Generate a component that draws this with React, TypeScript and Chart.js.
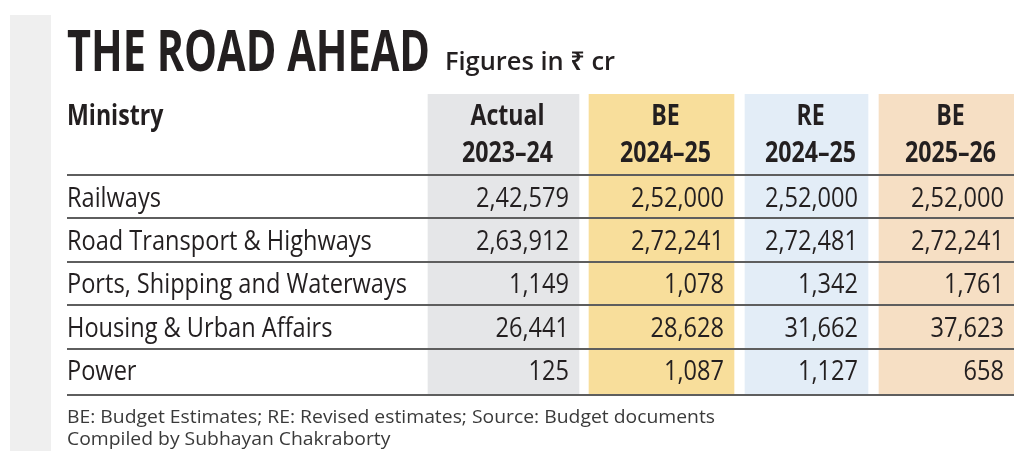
import React, { useEffect, useRef } from "react";
import { Chart, registerables } from "chart.js";

Chart.register(...registerables);

// ---------- data ----------
const MINISTRIES = [
  "Railways",
  "Road Transport & Highways",
  "Ports, Shipping and Waterways",
  "Housing & Urban Affairs",
  "Power",
];
const COLUMN_LABELS_TOP = ["Actual", "BE", "RE", "BE"];
const COLUMN_LABELS_BOTTOM = ["2023–24", "2024–25", "2024–25", "2025–26"];
const ACTUAL_2023_24 = [242579, 263912, 1149, 26441, 125];
const BE_2024_25 = [252000, 272241, 1078, 28628, 1087];
const RE_2024_25 = [252000, 272481, 1342, 31662, 1127];
const BE_2025_26 = [252000, 272241, 1761, 37623, 658];
const SERIES = [ACTUAL_2023_24, BE_2024_25, RE_2024_25, BE_2025_26];

const TITLE = "THE ROAD AHEAD";
const SUBTITLE = "Figures in ₹ cr";
const FIRST_HEADER = "Ministry";
const FOOTNOTES = [
  "BE: Budget Estimates; RE: Revised estimates; Source: Budget documents",
  "Compiled by Subhayan Chakraborty",
];

// ---------- layout / style ----------
const COLUMN_FILLS = ["#e5e6e8", "#f8de9b", "#e3edf7", "#f6dfc4"];
const X_MAX = 947;
const COL_SPANS: [number, number][] = [
  [361, 512],
  [522, 667],
  [678, 801],
  [812, 947],
];
const Y_MIN = -1.866;
const Y_MAX = 5.07;
const HEAD_LINE1 = -1.38;
const HEAD_LINE2 = -0.52;
const TEXT = "#231f20";
const RULE = "#5e5e5e";
const FONT = "'Open Sans', 'Noto Sans', 'DejaVu Sans', sans-serif";

function fmtIN(n: number): string {
  const s = String(n);
  if (s.length <= 3) return s;
  const last3 = s.slice(-3);
  let rest = s.slice(0, -3);
  const parts: string[] = [];
  while (rest.length > 2) {
    parts.unshift(rest.slice(-2));
    rest = rest.slice(0, -2);
  }
  if (rest) parts.unshift(rest);
  return parts.join(",") + "," + last3;
}

function drawScaled(
  ctx: CanvasRenderingContext2D,
  text: string,
  x: number,
  y: number,
  font: string,
  sx: number,
  align: "left" | "right" | "center"
) {
  ctx.save();
  ctx.font = font;
  ctx.textBaseline = "alphabetic";
  ctx.textAlign = "left";
  const w = ctx.measureText(text).width * sx;
  const left = align === "left" ? x : align === "right" ? x - w : x - w / 2;
  ctx.translate(left, y);
  ctx.scale(sx, 1);
  ctx.fillText(text, 0, 0);
  ctx.restore();
}

function fitScale(ctx: CanvasRenderingContext2D, text: string, font: string, target: number) {
  ctx.save();
  ctx.font = font;
  const w = ctx.measureText(text).width;
  ctx.restore();
  return w > 0 ? target / w : 1;
}

const tablePlugin = {
  id: "tableText",
  beforeDraw(chart: any) {
    const { ctx, chartArea } = chart;
    ctx.save();
    ctx.fillStyle = "#ffffff";
    ctx.fillRect(0, 0, chart.width, chart.height);
    ctx.fillStyle = "#efefef";
    ctx.fillRect(chartArea.left - 57, chartArea.top - 79, 41, 436);
    ctx.restore();
  },
  afterDatasetsDraw(chart: any) {
    const { ctx, chartArea, scales } = chart;
    const xs = scales.x;
    const ys = scales.y;
    const left = chartArea.left;

    ctx.save();
    ctx.fillStyle = TEXT;

    // title
    const titleFont = `bold 57px ${FONT}`;
    const tSx = fitScale(ctx, TITLE, titleFont, 363);
    drawScaled(ctx, TITLE, left, chartArea.top - 23, titleFont, tSx, "left");
    const subFont = `600 25px ${FONT}`;
    const sSx = fitScale(ctx, SUBTITLE, subFont, 170);
    drawScaled(ctx, SUBTITLE, left + 378, chartArea.top - 24, subFont, sSx, "left");

    // rules
    ctx.fillStyle = RULE;
    [0, 1, 2, 3, 4, Y_MAX].forEach((v) => {
      const py = Math.round(ys.getPixelForValue(v));
      ctx.fillRect(xs.getPixelForValue(0), py - 1, xs.getPixelForValue(X_MAX) - xs.getPixelForValue(0), 2);
    });

    ctx.fillStyle = TEXT;
    // headers
    const headFont = `bold 28px ${FONT}`;
    const hSx = fitScale(ctx, "2023–24", headFont, 91);
    drawScaled(ctx, FIRST_HEADER, xs.getPixelForValue(0), ys.getPixelForValue(HEAD_LINE1) + 10, headFont, hSx, "left");
    COL_SPANS.forEach(([a, b], i) => {
      const cx = (xs.getPixelForValue(a) + xs.getPixelForValue(b)) / 2 + 4;
      drawScaled(ctx, COLUMN_LABELS_TOP[i], cx, ys.getPixelForValue(HEAD_LINE1) + 10, headFont, hSx, "center");
      drawScaled(ctx, COLUMN_LABELS_BOTTOM[i], cx, ys.getPixelForValue(HEAD_LINE2) + 10, headFont, hSx, "center");
    });

    // body
    const bodyFont = `28px ${FONT}`;
    const bSx = fitScale(ctx, MINISTRIES[2], bodyFont, 340);
    MINISTRIES.forEach((m, r) => {
      const base = ys.getPixelForValue(r + 0.5) + 10;
      drawScaled(ctx, m, xs.getPixelForValue(0), base, bodyFont, bSx, "left");
      SERIES.forEach((s, c) => {
        const rx = xs.getPixelForValue(COL_SPANS[c][1]) - 10;
        drawScaled(ctx, fmtIN(s[r]), rx, base, bodyFont, bSx, "right");
      });
    });

    // footnotes
    ctx.fillStyle = "#3a3a3a";
    const footFont = `19px ${FONT}`;
    const fSx = fitScale(ctx, FOOTNOTES[0], footFont, 648);
    drawScaled(ctx, FOOTNOTES[0], left, chartArea.bottom + 28, footFont, fSx, "left");
    drawScaled(ctx, FOOTNOTES[1], left, chartArea.bottom + 50, footFont, fSx, "left");
    ctx.restore();
  },
};

export default function App() {
  const ref = useRef<HTMLCanvasElement | null>(null);
  useEffect(() => {
    if (!ref.current) return;
    const yMid = (Y_MIN + Y_MAX) / 2;
    const chart = new Chart(ref.current, {
      type: "bar",
      data: {
        datasets: SERIES.map((s, i) => ({
          label: `${COLUMN_LABELS_TOP[i]} ${COLUMN_LABELS_BOTTOM[i]}`,
          data: [{ x: COL_SPANS[i], y: yMid }] as any,
          backgroundColor: COLUMN_FILLS[i],
          borderWidth: 0,
          barThickness: 301,
          grouped: false,
        })),
      },
      options: {
        indexAxis: "y",
        animation: false,
        responsive: true,
        maintainAspectRatio: false,
        layout: { padding: { left: 67, right: 10, top: 94, bottom: 68 } },
        plugins: { legend: { display: false }, tooltip: { enabled: false }, title: { display: false } },
        events: [],
        scales: {
          x: { type: "linear", min: 0, max: X_MAX, display: false, offset: false },
          y: { type: "linear", min: Y_MIN, max: Y_MAX, reverse: true, display: false, offset: false },
        },
      } as any,
      plugins: [tablePlugin],
    });
    return () => chart.destroy();
  }, []);
  return (
    <div style={{ position: "fixed", left: 0, top: 0, width: 1024, height: 463, background: "#fff" }}>
      <canvas ref={ref} />
    </div>
  );
}
